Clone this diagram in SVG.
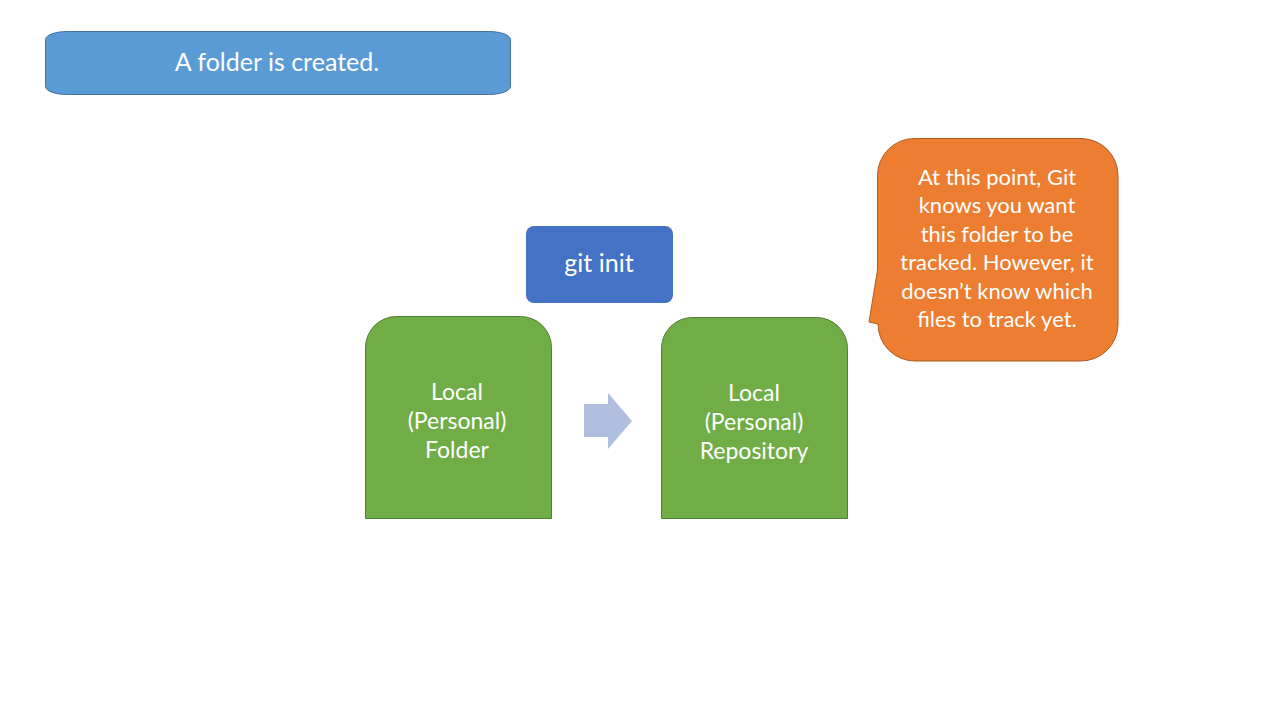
<svg xmlns="http://www.w3.org/2000/svg" width="1280" height="720" viewBox="0 0 1280 720">
<style>
text{font-family:Lato,"Open Sans","Liberation Sans",sans-serif;fill:#fff;font-size:22px;text-anchor:middle}
.big{font-size:25px}
.mid{font-size:23px}
.green{fill:#70AD47;stroke:#507E32;stroke-width:1}
</style>
<rect width="1280" height="720" fill="#fff"/>
<g id="banner">
<rect x="45.5" y="31.5" width="465" height="63" rx="22" ry="8" fill="#5B9BD5" stroke="#41719C"/>
<text class="big" x="277" y="71">A folder is created.</text>
</g>
<g id="gitinit">
<rect x="526" y="226" width="147" height="77" rx="8" fill="#4472C4"/>
<text class="big" x="599" y="272">git init</text>
</g>
<g id="folder">
<path class="green" d="M365.5,518.5 V347.5 A31,31 0 0 1 396.5,316.5 H520.5 A31,31 0 0 1 551.5,347.5 V518.5 Z"/>
<text class="mid" x="457" y="400">Local</text>
<text class="mid" x="457" y="429">(Personal)</text>
<text class="mid" x="457" y="458">Folder</text>
</g>
<g id="repo">
<path class="green" d="M661.5,518.5 V348.5 A31,31 0 0 1 692.5,317.5 H816.5 A31,31 0 0 1 847.5,348.5 V518.5 Z"/>
<text class="mid" x="754" y="401">Local</text>
<text class="mid" x="754" y="430">(Personal)</text>
<text class="mid" x="754" y="459">Repository</text>
</g>
<g id="connectors">
<path d="M584,404 H608 V393 L632,421 L608,449 V437 H584 Z" fill="#B0BEE0"/>
</g>
<g id="callout">
<path d="M915,138.5 H1081 A37,37 0 0 1 1118,175.5 V324 A37,37 0 0 1 1081,361 H915 A37,37 0 0 1 878,324 L869,322 L877.5,270 V175.5 A37,37 0 0 1 915,138.5 Z" fill="#ED7D31" stroke="#AE5A21"/>
<text x="997" y="185">At this point, Git</text>
<text x="997" y="213.4">knows you want</text>
<text x="997" y="241.8">this folder to be</text>
<text x="997" y="270.2">tracked. However, it</text>
<text x="997" y="298.6">doesn’t know which</text>
<text x="997" y="327">files to track yet.</text>
</g>
</svg>
